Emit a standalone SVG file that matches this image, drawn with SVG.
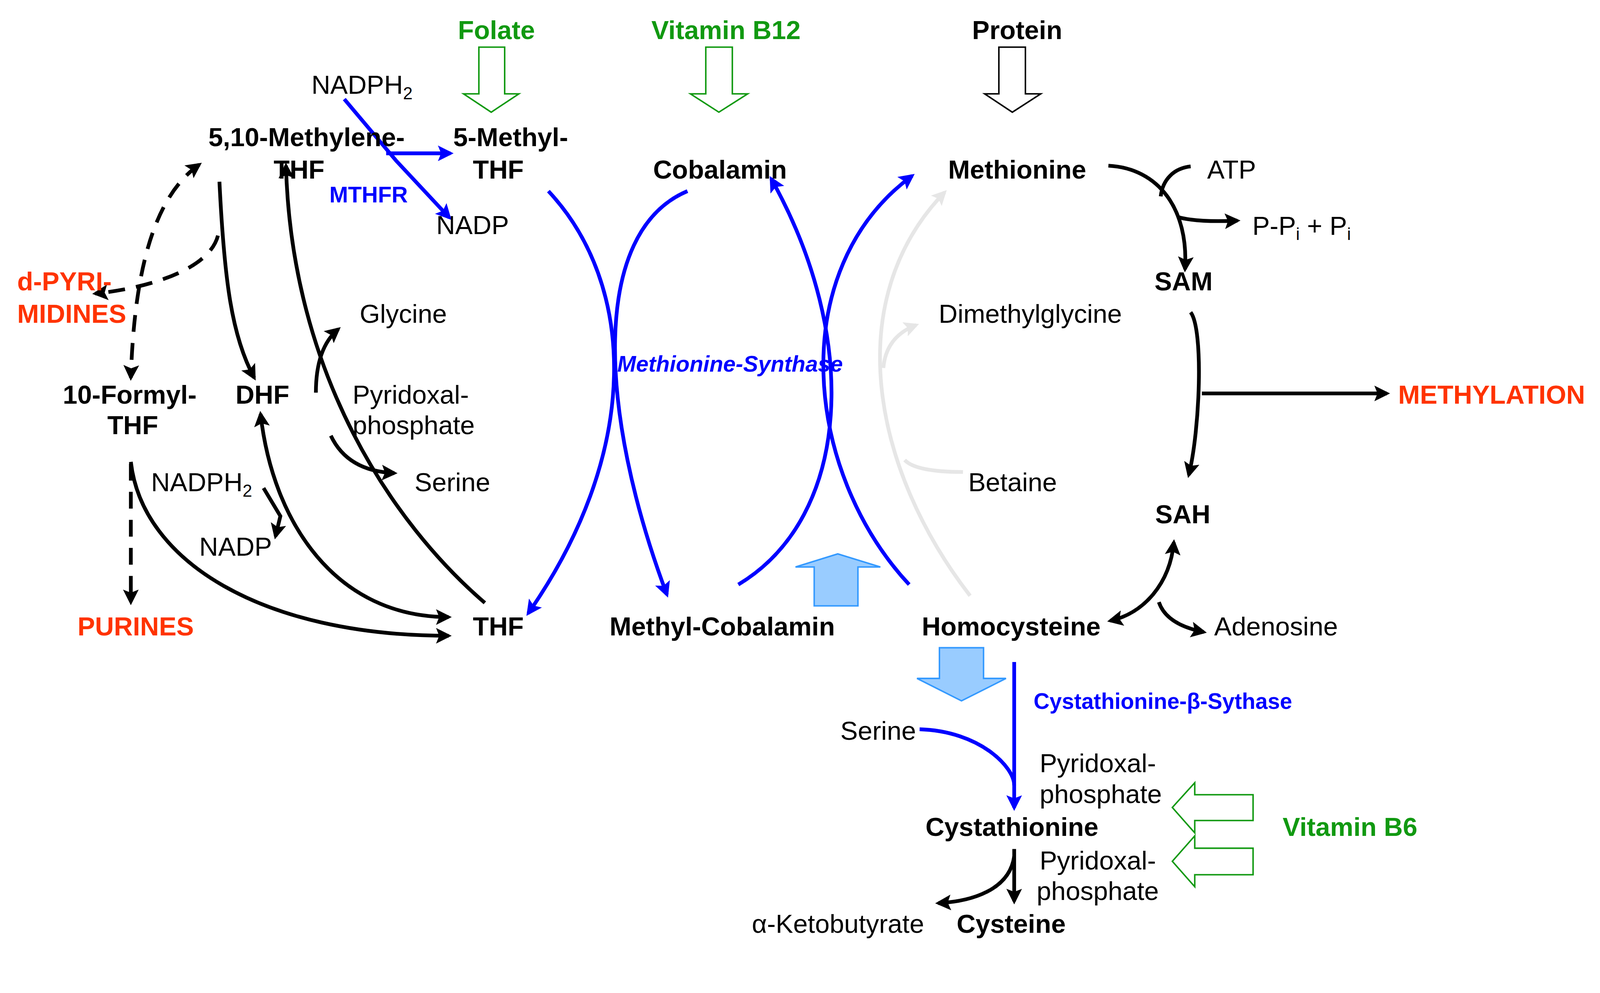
<svg xmlns="http://www.w3.org/2000/svg" width="4284" height="2541" viewBox="0 0 4284 2541">
<defs>
<marker id="ab" viewBox="0 0 10 10" refX="8" refY="5" markerWidth="42" markerHeight="42" markerUnits="userSpaceOnUse" orient="auto-start-reverse"><path d="M0,0 L10,5 L0,10 L2,5 Z" fill="#000"/></marker>
<marker id="au" viewBox="0 0 10 10" refX="8" refY="5" markerWidth="42" markerHeight="42" markerUnits="userSpaceOnUse" orient="auto-start-reverse"><path d="M0,0 L10,5 L0,10 L2,5 Z" fill="#0000ff"/></marker>
<marker id="ag" viewBox="0 0 10 10" refX="8" refY="5" markerWidth="40" markerHeight="40" markerUnits="userSpaceOnUse" orient="auto"><path d="M0,0 L10,5 L0,10 L2,5 Z" fill="#e6e6e6"/></marker>
</defs>
<style>
text{font-family:"Liberation Sans",Arial,sans-serif;font-size:70px;fill:#000}
.b{font-weight:bold}
.m{text-anchor:middle}
.red{fill:#ff3300;font-weight:bold}
.grn{fill:#119911;font-weight:bold}
.blu{fill:#0000ff;font-weight:bold}
.k{fill:none;stroke:#000;stroke-width:10}
.kd{fill:none;stroke:#000;stroke-width:10;stroke-dasharray:45 30}
.u{fill:none;stroke:#0000ff;stroke-width:10}
.g{fill:none;stroke:#e6e6e6;stroke-width:10}
.lb{fill:#99ccff;stroke:#3399ff;stroke-width:4}
.hg{fill:#fff;stroke:#119911;stroke-width:4}
.hk{fill:#fff;stroke:#000;stroke-width:4}
</style>
<rect width="4284" height="2541" fill="#fff"/>
<g transform="scale(0.957)">
<g id="connectors">
<path class="g" d="M2595,1593 C2330,1250 2250,800 2527,514" marker-end="url(#ag)"/>
<path class="g" d="M2363,984 Q2370,900 2451,869" marker-end="url(#ag)"/>
<path class="g" d="M2576,1262 Q2450,1262 2420,1230"/>
<path class="u" d="M1467,511 C1700,760 1720,1200 1413,1640" marker-end="url(#au)"/>
<path class="u" d="M1839,511 C1580,620 1600,1100 1784,1590" marker-end="url(#au)"/>
<path class="u" d="M1975,1563 C2280,1380 2300,900 2063,478" marker-end="url(#au)"/>
<path class="u" d="M2432,1563 C2150,1260 2100,720 2440,470" marker-end="url(#au)"/>
<path class="u" d="M921,265 L1060,430 L1202,582" marker-end="url(#au)"/>
<path class="u" d="M1033,410 L1205,410" marker-end="url(#au)"/>
<path class="k" d="M587,486 C600,750 620,900 680,1010" marker-end="url(#ab)"/>
<path class="k" d="M1297,1612 C1050,1400 780,1000 765,443" marker-end="url(#ab)"/>
<path class="k" d="M697,1107 C730,1400 900,1650 1200,1650" marker-start="url(#ab)" marker-end="url(#ab)"/>
<path class="k" d="M350,1235 C380,1500 700,1700 1200,1700" marker-end="url(#ab)"/>
<path class="k" d="M885,1165 Q930,1260 1055,1265" marker-end="url(#ab)"/>
<path class="k" d="M845,1050 Q845,930 905,880" marker-end="url(#ab)"/>
<path class="k" d="M705,1305 L750,1380 L737,1434" marker-end="url(#ab)"/>
<path class="kd" d="M533,440 C420,520 360,700 350,1010" marker-start="url(#ab)" marker-end="url(#ab)"/>
<path class="kd" d="M583,630 C560,720 400,770 255,785" marker-end="url(#ab)"/>
<path class="kd" d="M350,1240 L350,1610" marker-end="url(#ab)"/>
<path class="k" d="M2965,443 C3100,450 3180,560 3170,720" marker-end="url(#ab)"/>
<path class="k" d="M3185,445 C3140,450 3110,480 3105,525"/>
<path class="k" d="M3150,580 Q3200,595 3310,590" marker-end="url(#ab)"/>
<path class="k" d="M3185,835 C3220,880 3210,1150 3180,1270" marker-end="url(#ab)"/>
<path class="k" d="M3215,1052 L3710,1052" marker-end="url(#ab)"/>
<path class="k" d="M2970,1660 C3060,1640 3130,1560 3140,1450" marker-start="url(#ab)" marker-end="url(#ab)"/>
<path class="k" d="M3100,1610 Q3120,1670 3220,1690" marker-end="url(#ab)"/>
<path class="u" d="M2713,1770 L2713,2160" marker-end="url(#au)" stroke-width="8"/>
<path class="u" d="M2460,1950 C2620,1955 2713,2050 2713,2100" stroke-width="14"/>
<path class="k" d="M2713,2270 L2713,2410" marker-end="url(#ab)"/>
<path class="k" d="M2713,2290 C2700,2380 2600,2410 2510,2415" marker-end="url(#ab)"/>
</g>
<g id="inputs">
<path class="hg" d="M1281,126 H1350 V251 H1388 L1314,300 L1240,251 H1281 Z"/>
<path class="hg" d="M1888,126 H1959 V251 H2000 L1923,300 L1847,251 H1888 Z"/>
<path class="hk" d="M2672,126 H2743 V251 H2784 L2708,300 L2634,251 H2672 Z"/>
<path class="lb" d="M2178,1620 V1516 H2128 L2241,1481 L2355,1516 H2295 V1620 Z"/>
<path class="lb" d="M2513,1732 H2631 V1814 H2691 L2572,1874 L2453,1814 H2513 Z"/>
<path class="hg" d="M3352,2125 H3196 V2093 L3136,2159 L3196,2227 V2194 H3352 Z"/>
<path class="hg" d="M3352,2268 H3196 V2235 L3136,2303 L3196,2371 V2339 H3352 Z"/>
</g>
<g id="labels">
<text class="grn m" x="1328" y="104">Folate</text>
<text class="grn m" x="1942" y="104">Vitamin B12</text>
<text class="b m" x="2721" y="104">Protein</text>
<text x="833" y="251">NADPH<tspan font-size="46" dy="14">2</tspan></text>
<text class="b m" x="820" y="391">5,10-Methylene-</text>
<text class="b m" x="800" y="478">THF</text>
<text class="b m" x="1366" y="391">5-Methyl-</text>
<text class="b m" x="1333" y="478">THF</text>
<text class="blu m" x="986" y="541" style="font-size:60px">MTHFR</text>
<text x="1167" y="626">NADP</text>
<text class="b m" x="1926" y="478">Cobalamin</text>
<text class="b m" x="2721" y="478">Methionine</text>
<text x="3229" y="478">ATP</text>
<text x="3350" y="628">P-P<tspan font-size="46" dy="14">i</tspan><tspan dy="-14"> + P</tspan><tspan font-size="46" dy="14">i</tspan></text>
<text class="b m" x="3166" y="776">SAM</text>
<text class="red" x="46" y="776">d-PYRI-</text>
<text class="red" x="46" y="863">MIDINES</text>
<text x="962" y="863">Glycine</text>
<text x="2511" y="863">Dimethylglycine</text>
<text class="blu m" x="1953" y="994" style="font-size:60px;font-style:italic">Methionine-Synthase</text>
<text class="red" x="3740" y="1079">METHYLATION</text>
<text class="b m" x="347" y="1079">10-Formyl-</text>
<text class="b m" x="355" y="1161">THF</text>
<text class="b m" x="702" y="1079">DHF</text>
<text x="943" y="1079">Pyridoxal-</text>
<text x="943" y="1161">phosphate</text>
<text x="404" y="1314">NADPH<tspan font-size="46" dy="14">2</tspan></text>
<text x="1109" y="1314">Serine</text>
<text x="2590" y="1314">Betaine</text>
<text class="b m" x="3164" y="1399">SAH</text>
<text x="533" y="1486">NADP</text>
<text class="red m" x="363" y="1699">PURINES</text>
<text class="b m" x="1333" y="1699">THF</text>
<text class="b m" x="1932" y="1699">Methyl-Cobalamin</text>
<text class="b m" x="2705" y="1699">Homocysteine</text>
<text x="3248" y="1699">Adenosine</text>
<text class="blu" x="2765" y="1896" style="font-size:59px">Cystathionine-β-Sythase</text>
<text x="2248" y="1978">Serine</text>
<text x="2781" y="2065">Pyridoxal-</text>
<text x="2781" y="2147">phosphate</text>
<text class="b m" x="2707" y="2235">Cystathionine</text>
<text class="grn" x="3431" y="2235">Vitamin B6</text>
<text x="2781" y="2325">Pyridoxal-</text>
<text x="2773" y="2407">phosphate</text>
<text x="2472" y="2494" text-anchor="end">α-Ketobutyrate</text>
<text class="b m" x="2705" y="2494">Cysteine</text>
</g>
</g>
</svg>
